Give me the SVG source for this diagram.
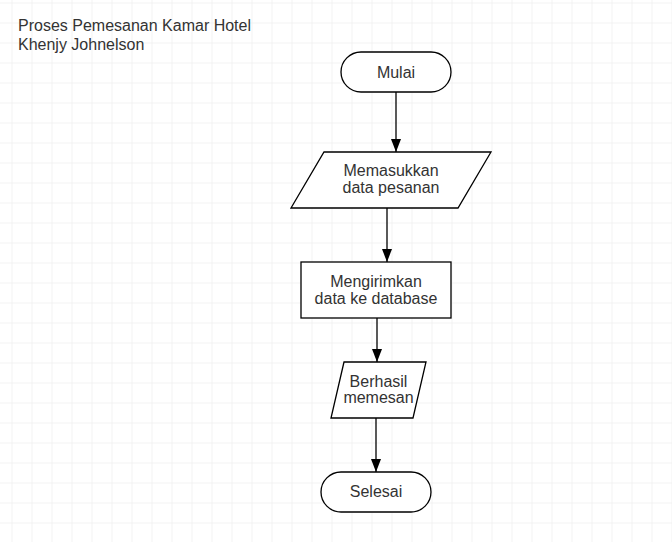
<svg xmlns="http://www.w3.org/2000/svg" width="672" height="542" viewBox="0 0 672 542">
  <defs>
    <pattern id="grid" x="11.5" y="2.5" width="20" height="20" patternUnits="userSpaceOnUse">
      <path d="M0 0 H20 M0 0 V20" fill="none" stroke="#e8e8e8" stroke-width="1"/>
    </pattern>
    <marker id="arrow" markerWidth="13" markerHeight="11" refX="13" refY="5.5" orient="auto" markerUnits="userSpaceOnUse" viewBox="0 0 13 11">
      <path d="M0 0.5 L13 5.5 L0 10.5 Z" fill="#000"/>
    </marker>
    <style>
      .shape { fill: #ffffff; stroke: #000000; stroke-width: 1.3; }
      .label { font-family: "Liberation Sans", Arial, sans-serif; font-size: 16px; fill: #333333; text-anchor: middle; }
      .title { font-family: "Liberation Sans", Arial, sans-serif; font-size: 16px; fill: #333333; }
      .edge { fill: none; stroke: #000000; stroke-width: 1.3; marker-end: url(#arrow); }
    </style>
  </defs>
  <rect x="0" y="0" width="672" height="542" fill="#ffffff"/>
  <rect x="0" y="0" width="672" height="542" fill="url(#grid)"/>

  <g id="title">
    <text class="title" x="18" y="31">Proses Pemesanan Kamar Hotel</text>
    <text class="title" x="18" y="49.5">Khenjy Johnelson</text>
  </g>

  <g id="connectors">
    <line class="edge" x1="396" y1="92" x2="396" y2="152"/>
    <line class="edge" x1="387" y1="208" x2="387" y2="262"/>
    <line class="edge" x1="377" y1="318" x2="377" y2="362"/>
    <line class="edge" x1="376" y1="418" x2="376" y2="472"/>
  </g>

  <g id="mulai">
    <rect class="shape" x="341" y="52" width="110" height="40" rx="20" ry="20"/>
    <text class="label" x="396" y="77.5">Mulai</text>
  </g>

  <g id="memasukkan">
    <polygon class="shape" points="324,152 491,152 458,208 291,208"/>
    <text class="label" x="391" y="175.5">Memasukkan</text>
    <text class="label" x="391" y="193">data pesanan</text>
  </g>

  <g id="mengirimkan">
    <rect class="shape" x="301" y="262" width="150" height="56"/>
    <text class="label" x="376" y="286.5">Mengirimkan</text>
    <text class="label" x="376" y="304">data ke database</text>
  </g>

  <g id="berhasil">
    <polygon class="shape" points="344,362 426,362 413,418 331,418"/>
    <text class="label" x="378.5" y="386.5">Berhasil</text>
    <text class="label" x="378.5" y="403">memesan</text>
  </g>

  <g id="selesai">
    <rect class="shape" x="321" y="472" width="110" height="40" rx="20" ry="20"/>
    <text class="label" x="376" y="497">Selesai</text>
  </g>
</svg>
